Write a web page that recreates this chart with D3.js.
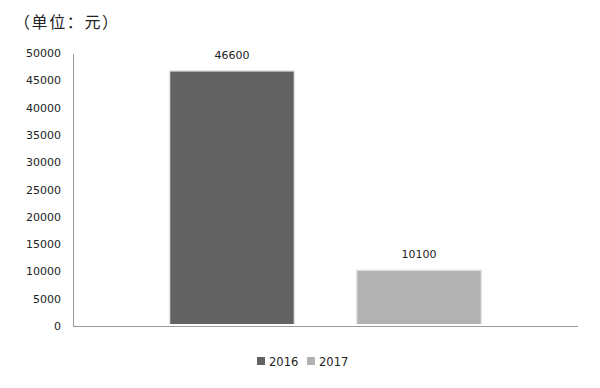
<!DOCTYPE html>
<html><head><meta charset="utf-8">
<script src="https://cdn.jsdelivr.net/npm/d3@7"></script>
<style>body{margin:0;background:#fff;}svg{display:block;}</style>
</head><body>
<svg id="c" width="600" height="388"></svg>
<script>
const category = ["单位"];
const series = ["2016", "2017"];
const values = [46600, 10100];
const colors = ["#626262", "#b2b2b2"];
const yTicks = [0, 5000, 10000, 15000, 20000, 25000, 30000, 35000, 40000, 45000, 50000];
const unitLabel = "（单位：元）";

(function () {
const svg = d3.select("#c");
const pl = 73, pr = 578, pt = 53, pb = 326;
const y = d3.scaleLinear().domain([0, 50000]).range([pb, pt]);
const x = d3.scaleBand().domain(series).range([pl, pr]).paddingInner(0.34).paddingOuter(0.52);
const numFont = "DejaVu Sans, Verdana, sans-serif";

svg.append("text").attr("x", 14).attr("y", 28)
  .attr("font-family", "Noto Sans CJK SC, sans-serif").attr("font-size", 16).attr("fill", "#222")
  .attr("letter-spacing", 1.6)
  .text(unitLabel);

const yAxis = d3.axisLeft(y).tickValues(yTicks).tickSize(0).tickPadding(12).tickFormat(d3.format("d"));
const ga = svg.append("g").attr("transform", `translate(${pl},0)`).call(yAxis);
ga.select(".domain").remove();
ga.selectAll("text").attr("font-family", numFont).attr("font-size", 11).attr("fill", "#222");

const bars = svg.append("g");
series.forEach((s, i) => {
  const x0 = x(s), w = x.bandwidth(), yt = y(values[i]);
  bars.append("rect").attr("x", x0 - 1.5).attr("y", yt - 1.5).attr("width", w + 3).attr("height", pb - 2 - yt + 1.5)
    .attr("fill", "#e6e6e6");
  bars.append("rect").attr("x", x0).attr("y", yt).attr("width", w).attr("height", pb - 2 - yt)
    .attr("fill", colors[i]);
  svg.append("text").attr("x", x0 + w / 2).attr("y", yt - 13).attr("text-anchor", "middle")
    .attr("font-family", numFont).attr("font-size", 11).attr("fill", "#222").text(d3.format("d")(values[i]));
});

svg.append("line").attr("x1", pl + 0.5).attr("x2", pl + 0.5).attr("y1", pt + 1).attr("y2", pb)
  .attr("stroke", "#9a9a9a").attr("stroke-width", 1);
svg.append("line").attr("x1", pl).attr("x2", pr).attr("y1", pb + 0.5).attr("y2", pb + 0.5)
  .attr("stroke", "#9a9a9a").attr("stroke-width", 1);

const lg = svg.append("g");
const legX = [257, 307];
series.forEach((s, i) => {
  lg.append("rect").attr("x", legX[i]).attr("y", 357).attr("width", 8).attr("height", 8).attr("fill", colors[i]);
  lg.append("text").attr("x", legX[i] + 12).attr("y", 365.5).attr("font-family", numFont).attr("font-size", 11.5)
    .attr("fill", "#222").text(s);
});
})();
</script>
</body></html>
